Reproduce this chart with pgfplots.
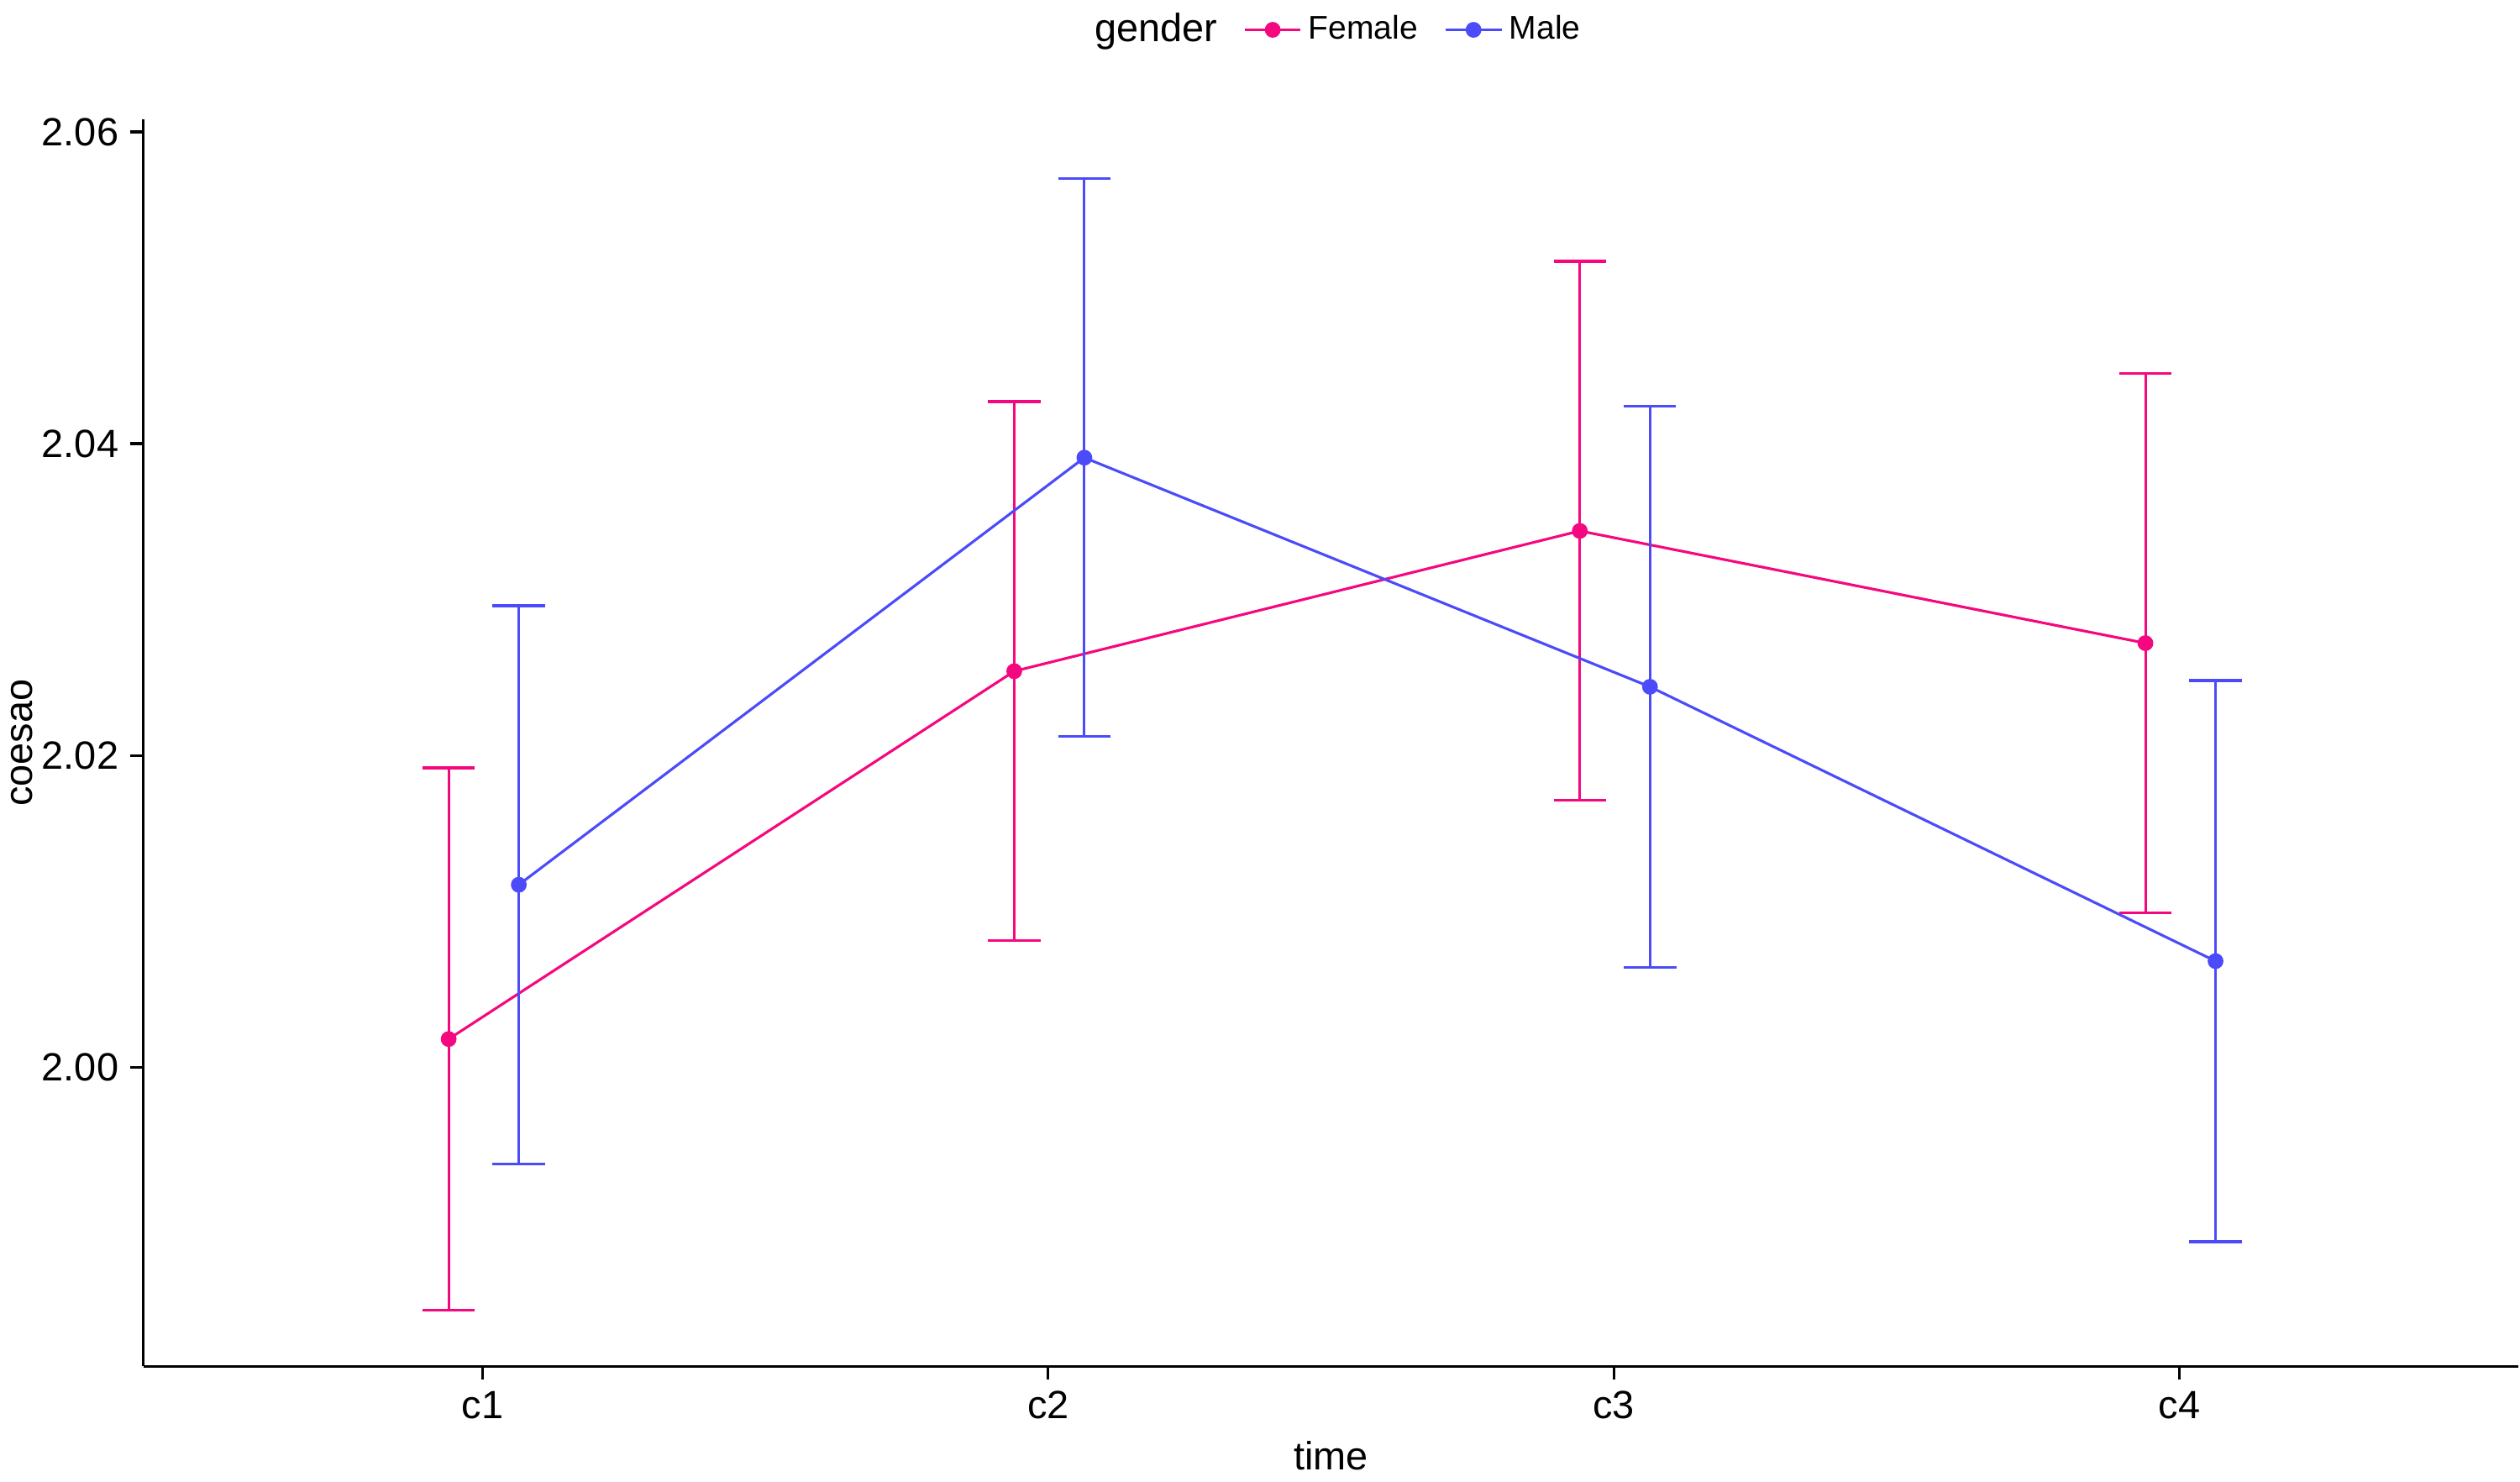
\documentclass[border=0pt]{standalone}
\usepackage{pgfplots}
\pgfplotsset{compat=1.18}
\usepackage{fontspec}
\setmainfont{Liberation Sans}
\definecolor{fem}{HTML}{F5087F}
\definecolor{mal}{HTML}{4B4BFA}
\begin{document}
\begin{tikzpicture}
\begin{axis}[
 scale only axis, width=724pt, height=380pt,
 xmin=0.4, xmax=4.6, ymin=1.9808, ymax=2.0608,
 axis lines=left, axis line style={-, line width=0.8pt},
 xtick={1,2,3,4}, xticklabels={c1,c2,c3,c4},
 ytick={2.00,2.02,2.04,2.06},
 yticklabel style={/pgf/number format/.cd,fixed,fixed zerofill,precision=2},
 /pgf/number format/assume math mode=true,
 tick align=outside, major tick length=4pt, tick style={black,line width=0.8pt},
 ticklabel style={font=\fontsize{12}{14}\selectfont},
 xlabel={time}, ylabel={coesao},
 label style={font=\fontsize{12}{14}\selectfont},
 xlabel style={yshift=0pt}, ylabel style={yshift=-4pt},
 legend style={at={(0.5,1.0)}, anchor=south, yshift=18pt, xshift=2pt, draw=none, legend columns=-1,
   font=\fontsize{10}{12}\selectfont, /tikz/every even column/.append style={column sep=6pt}},
 clip=false,
 every error bar/.style={line width=0.8pt},
]
\addlegendimage{empty legend}
\addlegendentry{\fontsize{12}{14}\selectfont gender}
\addplot[fem, line width=0.8pt, mark=*, mark size=2pt,
  error bars/.cd, y dir=both, y explicit, error bar style={line width=0.8pt}, error mark options={rotate=90, mark size=8pt, line width=0.8pt}]
 coordinates {
 (0.94,2.0018) +- (0,0.0174)
 (1.94,2.0254) +- (0,0.0173)
 (2.94,2.0344) +- (0,0.0173)
 (3.94,2.0272) +- (0,0.0173)
 };
\addlegendentry{Female}
\addplot[mal, line width=0.8pt, mark=*, mark size=2pt,
  error bars/.cd, y dir=both, y explicit, error bar style={line width=0.8pt}, error mark options={rotate=90, mark size=8pt, line width=0.8pt}]
 coordinates {
 (1.064,2.0117) +- (0,0.0179)
 (2.064,2.0391) +- (0,0.0179)
 (3.064,2.0244) +- (0,0.0180)
 (4.064,2.0068) +- (0,0.0180)
 };
\addlegendentry{Male}
\end{axis}
\end{tikzpicture}
\end{document}
